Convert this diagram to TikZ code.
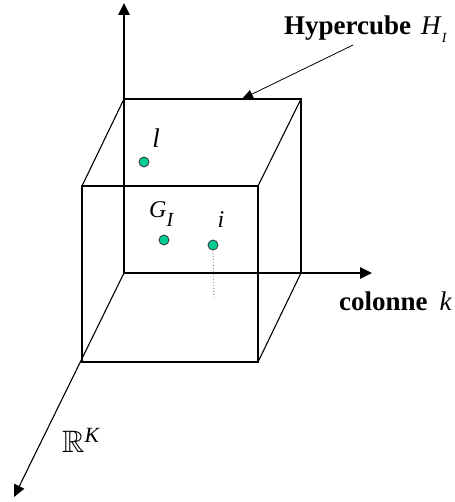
\documentclass[tikz,border=0pt]{standalone}
\usepackage{amsmath,amssymb}
\usepackage{fontspec}
\setmainfont{Liberation Serif}
\usetikzlibrary{arrows.meta}
\definecolor{dotgreen}{RGB}{0,204,150}

\begin{document}
\begin{tikzpicture}[x=1pt, y=-1pt, >={Triangle[length=12pt,width=11pt]},
    axis/.style={->, line width=2.6pt},
    edge/.style={line width=1.1pt},
    pt/.style={circle, fill=dotgreen, draw=black!75, line width=0.9pt, inner sep=0pt, minimum size=10pt},
    lbl/.style={font=\fontsize{24}{29}\selectfont, inner sep=0pt},
    title/.style={font=\fontsize{27}{32}\selectfont, inner sep=0pt}]
    \useasboundingbox (0,0) rectangle (454,502);

    % Corners of the hypercube (back face on the axes)
    \coordinate (O)  at (124,273);
    \coordinate (B1) at (124,99);
    \coordinate (B2) at (301,99);
    \coordinate (B3) at (301,273);
    \coordinate (F0) at (82,362);
    \coordinate (F1) at (82,186);
    \coordinate (F2) at (258,186);
    \coordinate (F3) at (258,362);

    % Cube edges
    \draw[edge] (B1) -- (B2) -- (B3);
    \draw[edge] (F0) -- (F1) -- (F2) -- (F3) -- cycle;
    \draw[edge] (B1) -- (F1);
    \draw[edge] (B2) -- (F2);
    \draw[edge] (B3) -- (F3);

    % Axes
    \coordinate (ytip) at (124,3);
    \coordinate (ktip) at (372,273);
    \coordinate (rtip) at (14,497);
    \draw[axis] (O) -- (ytip);
    \draw[axis] (O) -- (ktip);
    \draw[->, line width=1.1pt] (O) -- (rtip);

    \node[title, anchor=base west] (colk) at (339,310) {\textbf{colonne}\hspace{12pt}\textit{k}};
    \node[lbl, font=\fontsize{31}{36}\selectfont, anchor=base west] (rk) at (62,452) {$\mathbb{R}^{\textit{K}}$};

    % Hypercube label and pointer
    \node[title, anchor=base west] (hyper) at (284,35)
        {\textbf{Hypercube}\hspace{10pt}\textit{H}\raisebox{-8pt}{\fontsize{14}{14}\selectfont\textit{I}}};
    \coordinate (hstart) at (353,45);
    \coordinate (htip) at (242,99);
    \draw[->, >={Triangle[length=11pt,width=9pt]}, line width=0.8pt] (hstart) -- (htip);

    % Points in the cube
    \node[pt] (l) at (144,162) {};
    \node[pt] (g) at (164,240) {};
    \node[pt] (i) at (213,245) {};
    \coordinate (ifoot) at (214,298);
    \draw[dotted, gray, line width=0.9pt] (i.south) -- (ifoot);

    \node[lbl, font=\fontsize{27}{32}\selectfont, anchor=base] (lname) at (156,148) {\textit{l}};
    \node[lbl, anchor=base west] (gname) at (149,218)
        {\textit{G}\raisebox{-9pt}{\fontsize{20}{20}\selectfont\textit{I}}};
    \node[lbl, anchor=base] (iname) at (221,227) {\textit{i}};
\end{tikzpicture}
\end{document}
